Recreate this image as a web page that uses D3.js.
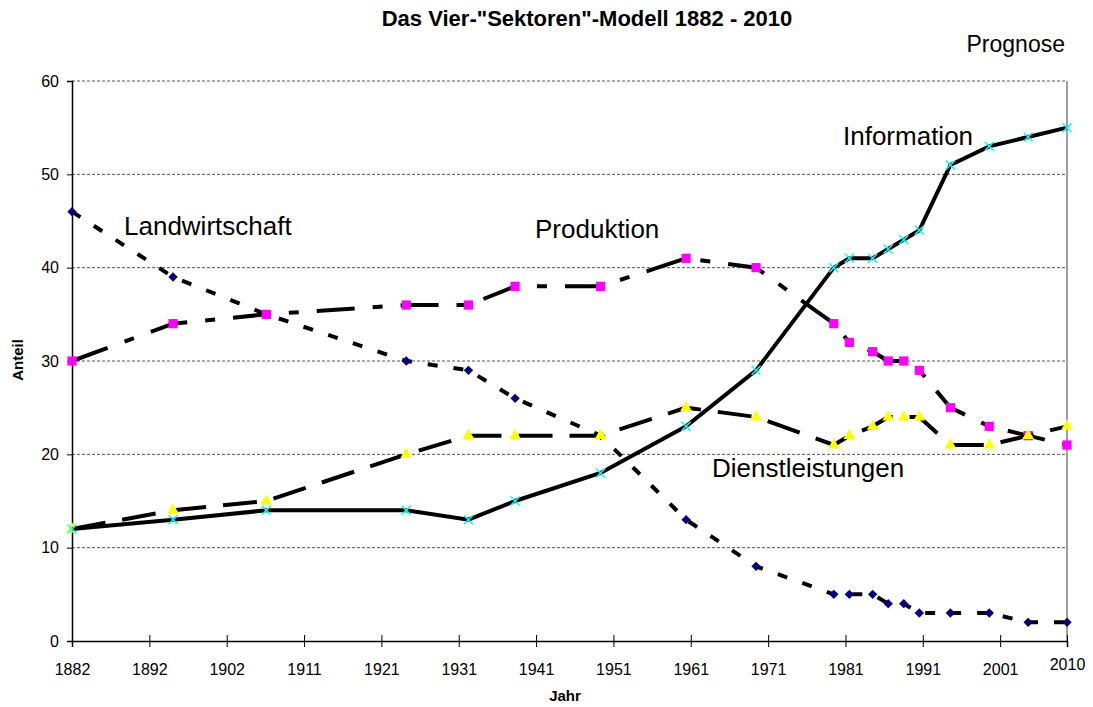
<!DOCTYPE html>
<html>
<head>
<meta charset="utf-8">
<script src="https://cdn.jsdelivr.net/npm/d3@7"></script>
<style>
  body { margin: 0; background: #fff; }
  text { font-family: "Liberation Sans", Arial, sans-serif; }
</style>
</head>
<body>
<svg width="1093" height="707"></svg>
<script>
// Erhebungsjahre und Anteile (in %)
const years = [1882, 1895, 1907, 1925, 1933, 1939, 1950, 1961, 1970, 1980, 1982, 1985, 1987, 1989, 1991, 1995, 2000, 2005, 2010];
const landwirtschaft = [46, 39, 35, 30, 29, 26, 22, 13, 8, 5, 5, 5, 4, 4, 3, 3, 3, 2, 2];
const produktion = [30, 34, 35, 36, 36, 38, 38, 41, 40, 34, 32, 31, 30, 30, 29, 25, 23, 22, 21];
const dienstleistungen = [12, 14, 15, 20, 22, 22, 22, 25, 24, 21, 22, 23, 24, 24, 24, 21, 21, 22, 23];
const information = [12, 13, 14, 14, 13, 15, 18, 23, 29, 40, 41, 41, 42, 43, 44, 51, 53, 54, 55];

const xTickValues = [1882, 1891.95, 1901.9, 1911.85, 1921.8, 1931.75, 1941.7, 1951.65, 1961.6, 1971.55, 1981.5, 1991.45, 2001.4, 2010];
const xTickLabels = ["1882", "1892", "1902", "1911", "1921", "1931", "1941", "1951", "1961", "1971", "1981", "1991", "2001", "2010"];
const yTicks = [0, 10, 20, 30, 40, 50, 60];

const svg = d3.select("svg");
const plot = { left: 72, right: 1067, top: 81, bottom: 641 };

const x = d3.scaleLinear().domain([1882, 2010]).range([plot.left, plot.right]);
const y = d3.scaleLinear().domain([0, 60]).range([plot.bottom, plot.top]);

// Gitternetz
svg.append("g")
    .selectAll("line")
    .data(yTicks.filter(d => d > 0))
    .join("line")
    .attr("x1", plot.left).attr("x2", plot.right)
    .attr("y1", d => y(d)).attr("y2", d => y(d))
    .attr("stroke", "#555")
    .attr("stroke-width", 1)
    .attr("stroke-dasharray", "3,2");

// rechter Rand
svg.append("line")
    .attr("x1", plot.right).attr("x2", plot.right)
    .attr("y1", plot.top).attr("y2", plot.bottom)
    .attr("stroke", "#808080").attr("stroke-width", 1.5);

// y-Achse
const yAxis = svg.append("g")
    .attr("transform", `translate(${plot.left},0)`)
    .call(d3.axisLeft(y).tickValues(yTicks).tickSize(5).tickPadding(8));
yAxis.select(".domain").attr("stroke", "#000").attr("stroke-width", 1.5);
yAxis.selectAll("text").attr("font-size", 16).attr("fill", "#000")
    .style("font-family", "'Liberation Sans', Arial, sans-serif");

// x-Achse
const xAxis = svg.append("g")
    .attr("transform", `translate(0,${plot.bottom})`)
    .call(d3.axisBottom(x).tickValues(xTickValues)
        .tickFormat((d, i) => xTickLabels[i]).tickSize(6).tickPadding(17));
xAxis.select(".domain").attr("stroke", "#000").attr("stroke-width", 1.5);
xAxis.selectAll(".tick line").attr("y1", -6);
xAxis.selectAll("text").attr("font-size", 16).attr("fill", "#000")
    .style("font-family", "'Liberation Sans', Arial, sans-serif")
    .attr("dy", (d, i) => i === xTickLabels.length - 1 ? "0.35em" : "0.71em");

// Linien und Marker
const series = [
    { name: "Landwirtschaft", values: landwirtschaft, dash: "10,16", marker: "diamond", color: "#000080" },
    { name: "Produktion", values: produktion, dash: "38,18,10,18", marker: "square", color: "#ff00ff" },
    { name: "Dienstleistungen", values: dienstleistungen, dash: "34,17", marker: "triangle", color: "#ffff00" },
    { name: "Information", values: information, dash: null, marker: "cross", color: "#00ffff" }
];

const line = d3.line()
    .x((d, i) => x(years[i]))
    .y(d => y(d));

const markerPath = {
    diamond: d3.symbol(d3.symbolSquare, 44)(),
    square: d3.symbol(d3.symbolSquare, 85)(),
    triangle: d3.symbol(d3.symbolTriangle, 60)(),
    cross: "M-4.5,-4.5L4.5,4.5M-4.5,4.5L4.5,-4.5"
};

series.forEach(s => {
    const g = svg.append("g");
    g.append("path")
        .datum(s.values)
        .attr("d", line)
        .attr("fill", "none")
        .attr("stroke", "#000")
        .attr("stroke-width", 4)
        .attr("stroke-dasharray", s.dash);

    g.selectAll(".pt")
        .data(s.values)
        .join("path")
        .attr("d", markerPath[s.marker])
        .attr("transform", (d, i) => `translate(${x(years[i])},${y(d)})` + (s.marker === "diamond" ? " rotate(45)" : ""))
        .attr("fill", s.marker === "cross" ? "none" : s.color)
        .attr("stroke", s.marker === "cross" ? s.color : "none")
        .attr("stroke-width", 1.5);
});

// Beschriftungen
const labels = [
    { text: "Landwirtschaft", x: 124, y: 235 },
    { text: "Produktion", x: 535, y: 238 },
    { text: "Information", x: 843, y: 145 },
    { text: "Dienstleistungen", x: 712, y: 477 }
];
svg.selectAll(".serie-label")
    .data(labels)
    .join("text")
    .attr("x", d => d.x).attr("y", d => d.y)
    .attr("font-size", 26)
    .text(d => d.text);

svg.append("text")
    .attr("x", 587).attr("y", 26)
    .attr("text-anchor", "middle")
    .attr("font-size", 22).attr("font-weight", "bold")
    .text('Das Vier-"Sektoren"-Modell 1882 - 2010');

svg.append("text")
    .attr("x", 1065).attr("y", 52)
    .attr("text-anchor", "end")
    .attr("font-size", 23)
    .text("Prognose");

svg.append("text")
    .attr("x", 565).attr("y", 701)
    .attr("text-anchor", "middle")
    .attr("font-size", 15).attr("font-weight", "bold")
    .text("Jahr");

svg.append("text")
    .attr("transform", "translate(23,360) rotate(-90)")
    .attr("text-anchor", "middle")
    .attr("font-size", 15).attr("font-weight", "bold")
    .text("Anteil");
</script>
</body>
</html>
